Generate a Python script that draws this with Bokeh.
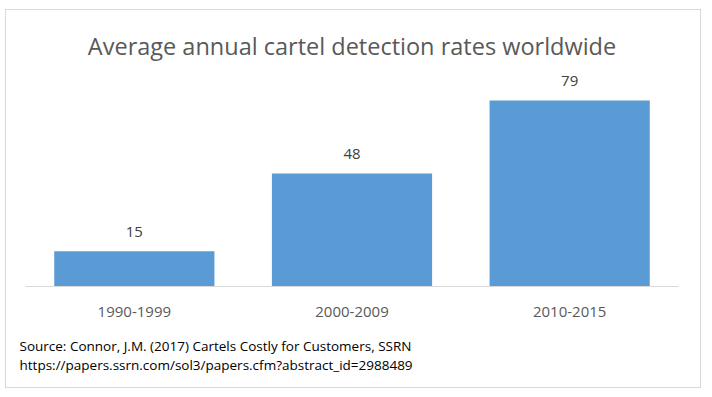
from bokeh.plotting import figure
from bokeh.models import ColumnDataSource, LabelSet, Title, Range1d
from bokeh.core.properties import value
from bokeh.embed import file_html
from bokeh.resources import INLINE

periods = ["1990-1999", "2000-2009", "2010-2015"]
rates = [15, 48, 79]
title_text = "Average annual cartel detection rates worldwide"
source_line1 = "Source: Connor, J.M. (2017) Cartels Costly for Customers, SSRN"
source_line2 = "https://papers.ssrn.com/sol3/papers.cfm?abstract_id=2988489"

src = ColumnDataSource(dict(period=periods, rate=rates, label=[str(v) for v in rates]))

p = figure(x_range=periods, y_range=Range1d(0, 90), width=696, height=379,
           output_backend="svg", toolbar_location=None,
           min_border_left=19, min_border_right=24, min_border_top=64, min_border_bottom=103)
p.styles = {"border": "1px solid #d9d9d9", "margin-left": "5px", "margin-top": "9px"}

p.vbar(x="period", top="rate", width=0.736, source=src, color="#5B9BD5", line_color=None)

labels = LabelSet(x="period", y="rate", text="label", source=src, y_offset=14,
                  text_align="center", text_baseline="bottom",
                  text_font=value("Open Sans"), text_font_size="15px", text_color="#404040")
p.add_layout(labels)

p.title.text = title_text
p.title.align = "center"
p.title.text_font = "Open Sans"
p.title.text_font_size = "23.5px"
p.title.text_font_style = "normal"
p.title.text_color = "#595959"
p.title.standoff = 25

p.yaxis.visible = False
p.xgrid.visible = False
p.ygrid.visible = False
p.outline_line_color = None
p.xaxis.axis_line_color = "#d9d9d9"
p.xaxis.major_tick_line_color = None
p.xaxis.minor_tick_line_color = None
p.xaxis.major_label_text_font = "Open Sans"
p.xaxis.major_label_text_font_size = "15px"
p.xaxis.major_label_text_color = "#595959"
p.xaxis.major_label_standoff = 14
p.x_range.range_padding = 0

p.add_layout(Title(text=source_line1 + "\n" + source_line2, align="left", offset=-6,
                   text_font="Open Sans", text_font_size="13.5px", text_font_style="normal",
                   text_color="#000000", text_line_height=1.05, standoff=31), "below")

open("out.html", "w").write(file_html(p, INLINE))
